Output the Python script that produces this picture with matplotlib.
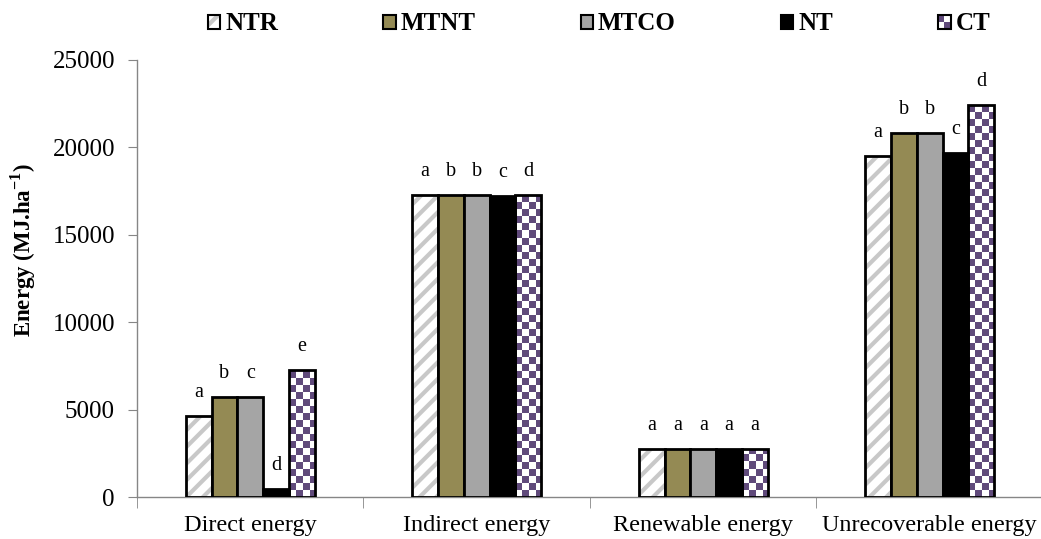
import numpy as np
import matplotlib
matplotlib.use("Agg")
import matplotlib.pyplot as plt
from matplotlib.patches import Patch, Rectangle
from matplotlib.colors import ListedColormap

plt.rcParams['font.family'] = ['Liberation Serif', 'DejaVu Serif']
plt.rcParams['hatch.linewidth'] = 3.0
plt.rcParams['mathtext.fontset'] = 'custom'
plt.rcParams['mathtext.rm'] = 'Liberation Serif'
plt.rcParams['mathtext.bf'] = 'Liberation Serif:bold'

categories = ["Direct energy", "Indirect energy", "Renewable energy", "Unrecoverable energy"]
series = ["NTR", "MTNT", "MTCO", "NT", "CT"]
NTR = [4620, 17250, 2760, 19500]
MTNT = [5720, 17250, 2760, 20820]
MTCO = [5720, 17250, 2760, 20820]
NT = [480, 17200, 2720, 19700]
CT = [7240, 17300, 2760, 22420]
letters = {
    "NTR": ["a", "a", "a", "a"],
    "MTNT": ["b", "b", "a", "b"],
    "MTCO": ["c", "b", "a", "b"],
    "NT": ["d", "c", "a", "c"],
    "CT": ["e", "d", "a", "d"],
}
yticks = [0, 5000, 10000, 15000, 20000, 25000]

values = {"NTR": NTR, "MTNT": MTNT, "MTCO": MTCO, "NT": NT, "CT": CT}
colors = {"NTR": "white", "MTNT": "#948A54", "MTCO": "#A5A5A5", "NT": "#000000", "CT": "#604A7B"}
HATCH_GRAY = "#C8C8C8"

W, H = 1041, 539
AXW = 906
fig = plt.figure(figsize=(W / 100, H / 100), dpi=100)
ax = fig.add_axes([137 / W, (H - 497) / H, AXW / W, 437 / H])

x = np.arange(len(categories))
bw = 0.114
offsets = (np.arange(5) - 2) * bw

for i, s in enumerate(series):
    xs = x + offsets[i]
    vals = values[s]
    if s == "NTR":
        ax.bar(xs, vals, bw, facecolor="white", edgecolor=HATCH_GRAY, hatch="//", linewidth=0, zorder=2)
        ax.bar(xs, vals, bw, facecolor="none", edgecolor="black", linewidth=2, zorder=4)
    elif s == "CT":
        bars = ax.bar(xs, vals, bw, facecolor="white", edgecolor="black", linewidth=0, zorder=2)
        cmap = ListedColormap(["white", colors["CT"]])
        cx = 7 / (AXW / 4.0)
        cy = 7 * 25000 / 437.0
        for b in bars:
            x0, y0 = b.get_x(), b.get_y()
            w, h = b.get_width(), b.get_height()
            nx = int(np.ceil(w / cx))
            ny = int(np.ceil(h / cy))
            arr = (np.add.outer(np.arange(ny), np.arange(nx)) % 2).astype(float)
            im = ax.imshow(arr, cmap=cmap, interpolation="nearest", aspect="auto", origin="lower",
                           extent=(x0, x0 + nx * cx, y0, y0 + ny * cy), zorder=3, vmin=0, vmax=1)
            im.set_clip_path(b)
        ax.bar(xs, vals, bw, facecolor="none", edgecolor="black", linewidth=2, zorder=4)
    else:
        ax.bar(xs, vals, bw, facecolor=colors[s], edgecolor="black", linewidth=2, zorder=4)
    for j, v in enumerate(vals):
        ax.text(xs[j], v + 800, letters[s][j], ha="center", va="bottom", fontsize=14.5, clip_on=False, zorder=5)

ax.set_xlim(-0.5, len(categories) - 0.5)
ax.set_ylim(0, 25000)
ax.set_yticks(yticks)
ax.set_yticklabels([str(t) for t in yticks], fontsize=18)
ax.set_xticks(x)
ax.set_xticklabels(categories, fontsize=17.5)
ax.tick_params(axis="x", length=0, pad=13)
ax.set_xticks(np.arange(len(categories) + 1) - 0.5, minor=True)
ax.tick_params(axis="x", which="minor", length=8, color="#868686", direction="out")
ax.tick_params(axis="y", length=6.5, color="#868686", direction="out", pad=9.4)
for sp in ["top", "right"]:
    ax.spines[sp].set_visible(False)
for sp in ["left", "bottom"]:
    ax.spines[sp].set_color("#868686")
    ax.spines[sp].set_linewidth(1)
ax.set_ylabel(r"Energy (MJ.ha$^{\mathbf{-1}}$)", fontsize=16.5, fontweight="bold")
ax.yaxis.set_label_coords((38 - 137) / AXW, (497 - 250) / 437)


class NTRHandler:
    def legend_artist(self, legend, orig_handle, fontsize, handlebox):
        x0, y0 = -handlebox.xdescent, -handlebox.ydescent
        w, h = handlebox.width, handlebox.height
        t = handlebox.get_transform()
        handlebox.add_artist(Rectangle((x0, y0), w, h, facecolor="white", edgecolor=HATCH_GRAY,
                                       hatch="//", linewidth=0, transform=t))
        border = Rectangle((x0, y0), w, h, facecolor="none", edgecolor="black", linewidth=1.5, transform=t)
        handlebox.add_artist(border)
        return border


class CheckerHandler:
    def legend_artist(self, legend, orig_handle, fontsize, handlebox):
        x0, y0 = -handlebox.xdescent, -handlebox.ydescent
        w, h = handlebox.width, handlebox.height
        t = handlebox.get_transform()
        handlebox.add_artist(Rectangle((x0, y0), w, h, facecolor="white", linewidth=0, transform=t))
        handlebox.add_artist(Rectangle((x0, y0 + h / 2), w / 2, h / 2, facecolor=colors["CT"],
                                       linewidth=0, transform=t))
        handlebox.add_artist(Rectangle((x0 + w / 2, y0), w / 2, h / 2, facecolor=colors["CT"],
                                       linewidth=0, transform=t))
        border = Rectangle((x0, y0), w, h, facecolor="none", edgecolor="black", linewidth=1.5, transform=t)
        handlebox.add_artist(border)
        return border


h_ntr = Patch(facecolor="white", edgecolor="black", label="NTR")
h_ct = Patch(facecolor=colors["CT"], edgecolor="black", label="CT")
handles = [
    h_ntr,
    Patch(facecolor=colors["MTNT"], edgecolor="black", linewidth=1.5),
    Patch(facecolor=colors["MTCO"], edgecolor="black", linewidth=1.5),
    Patch(facecolor=colors["NT"], edgecolor="black", linewidth=1.5),
    h_ct,
]
fig.legend(handles, series, loc="center", bbox_to_anchor=(599 / W, 1 - 24 / H), ncol=5,
           frameon=False, handler_map={h_ntr: NTRHandler(), h_ct: CheckerHandler()},
           prop={"weight": "bold", "size": 18}, handlelength=0.5, handleheight=0.5,
           handletextpad=0.2, columnspacing=4.2)

fig.savefig("out.png", dpi=100)
